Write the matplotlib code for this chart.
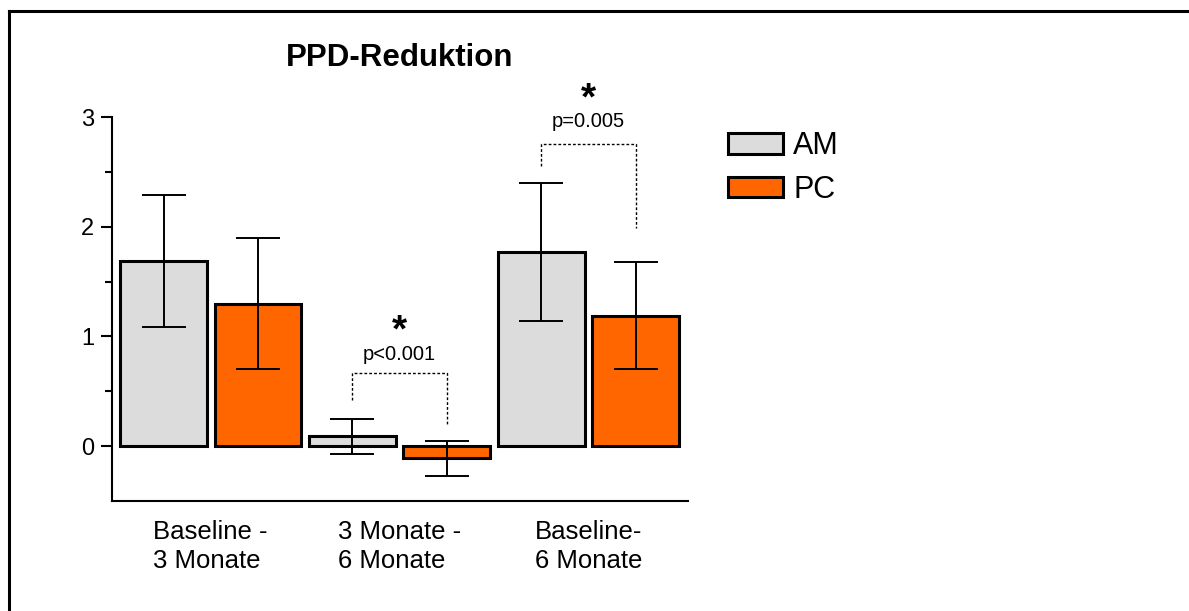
import matplotlib
matplotlib.use("Agg")
import matplotlib.pyplot as plt
from matplotlib.lines import Line2D
import numpy as np

plt.rcParams['font.family'] = ['Liberation Sans', 'DejaVu Sans']

# data
groups = ["Baseline -\n3 Monate", "3 Monate -\n6 Monate", "Baseline-\n6 Monate"]
series = ["AM", "PC"]
am_mean = [1.69, 0.09, 1.77]
am_err = [0.60, 0.16, 0.63]
pc_mean = [1.30, -0.11, 1.19]
pc_err = [0.60, 0.16, 0.49]
colors = {"AM": "#DCDCDC", "PC": "#FF6600"}

# significance brackets (group index, left foot, top, right foot, label)
sig_groups = [1, 2]
sig_left = [0.42, 2.555]
sig_top = [0.67, 2.75]
sig_right = [0.18, 1.99]
sig_labels = ["p<0.001", "p=0.005"]
sig_text_y = [0.784, 2.91]
star_y = [0.95, 3.07]

W, H = 1189, 611
fig = plt.figure(figsize=(W / 100, H / 100), dpi=100)
ax = fig.add_axes([112 / W, 1 - 501 / H, (688 - 112) / W, (501 - 117) / H])

n = len(groups)
x_am = np.arange(n) * 2
x_pc = x_am + 1
bar_w = 0.92

ax.bar(x_am, am_mean, width=bar_w, color=colors["AM"], edgecolor="black", linewidth=2.2, label="AM", zorder=2)
ax.bar(x_pc, pc_mean, width=bar_w, color=colors["PC"], edgecolor="black", linewidth=2.2, label="PC", zorder=2)
ax.errorbar(x_am, am_mean, yerr=am_err, fmt="none", ecolor="black", elinewidth=1.4, capsize=15.8, capthick=1.4, zorder=3)
ax.errorbar(x_pc, pc_mean, yerr=pc_err, fmt="none", ecolor="black", elinewidth=1.4, capsize=15.8, capthick=1.4, zorder=3)

# brackets with p values
for g, yl, yt, yr, lab, ty, sy in zip(sig_groups, sig_left, sig_top, sig_right, sig_labels, sig_text_y, star_y):
    xl, xr = x_am[g], x_pc[g]
    ax.plot([xl, xl, xr, xr], [yl, yt, yt, yr], color="black", linestyle=(0, (2, 1.5)), linewidth=1.0,
            clip_on=False, zorder=3)
    ax.text((xl + xr) / 2, ty, lab, ha="center", va="baseline", fontsize=14.5, clip_on=False)
    ax.text((xl + xr) / 2, sy, "*", ha="center", va="baseline", fontsize=28, fontweight="bold", clip_on=False)

ax.set_xlim(-0.546, 5.556)
ax.set_ylim(-0.5, 3)
ax.set_yticks([0, 1, 2, 3])
ax.set_yticks([0.5, 1.5, 2.5], minor=True)
ax.tick_params(axis="y", which="major", length=8, width=1.5, labelsize=17, pad=5)
ax.tick_params(axis="y", which="minor", length=5, width=1.5)
ax.set_xticks(x_am + 0.5)
ax.set_xticklabels(groups, fontsize=18.5, linespacing=1.22)
for t in ax.get_xticklabels():
    t.set_multialignment("left")
ax.tick_params(axis="x", length=0, pad=14)

for s in ["top", "right"]:
    ax.spines[s].set_visible(False)
for s in ["left", "bottom"]:
    ax.spines[s].set_linewidth(1.5)

ax.set_title("PPD-Reduktion", fontsize=22.5, fontweight="bold", pad=0, y=1.0 + 51 / 384)

ax.legend(loc="upper left", bbox_to_anchor=(728 / W, 1 - 131 / H), bbox_transform=fig.transFigure,
          frameon=False, fontsize=22, handlelength=1.8, handleheight=0.66, handletextpad=0.33,
          labelspacing=0.45, borderpad=0, borderaxespad=0)

# outer frame (only top and left edges are visible)
fig.add_artist(Line2D([8.5 / W, 8.5 / W], [0, 1 - 11 / H], color="black", linewidth=2.2))
fig.add_artist(Line2D([8.5 / W, 1], [1 - 11 / H, 1 - 11 / H], color="black", linewidth=2.2))

fig.savefig("out.png", dpi=100)
